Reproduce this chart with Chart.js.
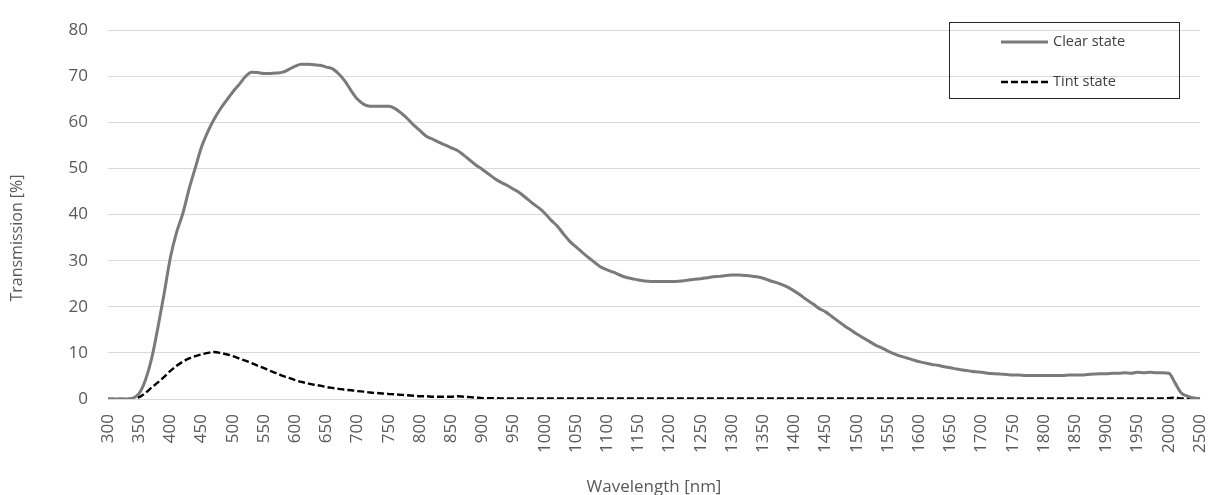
<!DOCTYPE html>
<html>
<head>
<meta charset="utf-8">
<script src="https://cdn.jsdelivr.net/npm/chart.js@4.4.1/dist/chart.umd.min.js"></script>
<style>
html,body{margin:0;padding:0;background:#fff;}
#wrap{width:1211px;height:495px;position:relative;}
</style>
</head>
<body>
<div id="wrap"><canvas id="c" width="1211" height="495"></canvas></div>
<script>
// Categories: wavelength in nm (10 nm steps to 2000, then 100 nm steps to 2500)
const wavelengths = [
  300,310,320,330,340,350,360,370,380,390,
  400,410,420,430,440,450,460,470,480,490,
  500,510,520,530,540,550,560,570,580,590,
  600,610,620,630,640,650,660,670,680,690,
  700,710,720,730,740,750,760,770,780,790,
  800,810,820,830,840,850,860,870,880,890,
  900,910,920,930,940,950,960,970,980,990,
  1000,1010,1020,1030,1040,1050,1060,1070,1080,1090,
  1100,1110,1120,1130,1140,1150,1160,1170,1180,1190,
  1200,1210,1220,1230,1240,1250,1260,1270,1280,1290,
  1300,1310,1320,1330,1340,1350,1360,1370,1380,1390,
  1400,1410,1420,1430,1440,1450,1460,1470,1480,1490,
  1500,1510,1520,1530,1540,1550,1560,1570,1580,1590,
  1600,1610,1620,1630,1640,1650,1660,1670,1680,1690,
  1700,1710,1720,1730,1740,1750,1760,1770,1780,1790,
  1800,1810,1820,1830,1840,1850,1860,1870,1880,1890,
  1900,1910,1920,1930,1940,1950,1960,1970,1980,1990,
  2000,
  2100,2200,2300,2400,2500
];

// Tick labels shown on the category axis
const tickLabels = [300,350,400,450,500,550,600,650,700,750,800,850,900,950,1000,1050,
  1100,1150,1200,1250,1300,1350,1400,1450,1500,1550,1600,1650,1700,1750,1800,1850,
  1900,1950,2000,2500];

// Transmission [%] — clear state
const clearState = [
  0,0,0,0,0.2,1.2,4.1,8.8,15.5,22.9,
  30.7,36.2,40.3,45.6,50.2,54.7,58.0,60.7,62.9,64.8,
  66.6,68.2,69.9,70.9,70.8,70.6,70.6,70.7,70.9,71.5,
  72.2,72.6,72.6,72.5,72.4,72.0,71.6,70.5,68.9,66.8,
  65.0,63.9,63.5,63.5,63.5,63.5,63.0,62.0,60.8,59.4,
  58.2,57.0,56.4,55.7,55.1,54.5,53.9,52.9,51.8,50.7,
  49.8,48.8,47.8,47.0,46.3,45.5,44.7,43.6,42.5,41.5,
  40.3,38.8,37.5,35.8,34.2,33.0,31.8,30.7,29.6,28.6,
  28.0,27.5,26.9,26.4,26.1,25.8,25.6,25.5,25.5,25.5,
  25.5,25.5,25.6,25.8,26.0,26.1,26.3,26.5,26.6,26.8,
  26.9,26.9,26.8,26.7,26.5,26.2,25.7,25.3,24.8,24.2,
  23.4,22.5,21.5,20.6,19.6,18.9,17.9,16.9,15.9,15.0,
  14.1,13.3,12.5,11.7,11.1,10.4,9.8,9.3,8.9,8.5,
  8.1,7.8,7.5,7.3,7.0,6.8,6.5,6.3,6.1,5.9,
  5.8,5.6,5.5,5.4,5.3,5.2,5.2,5.1,5.1,5.1,
  5.1,5.1,5.1,5.1,5.2,5.2,5.2,5.3,5.4,5.5,
  5.5,5.6,5.6,5.7,5.6,5.8,5.7,5.8,5.7,5.7,
  5.6,
  3.5,1.3,0.6,0.2,0.1
];

// Transmission [%] — tint state
const tintState = [
  0,0,0,0,0,0.4,1.3,2.5,3.6,4.8,
  6.1,7.2,8.1,8.8,9.3,9.7,10.0,10.2,10.0,9.7,
  9.3,8.8,8.3,7.8,7.2,6.7,6.1,5.6,5.0,4.6,
  4.1,3.7,3.4,3.1,2.9,2.6,2.4,2.2,2.0,1.9,
  1.7,1.6,1.4,1.3,1.2,1.1,1.0,0.9,0.8,0.7,
  0.6,0.6,0.5,0.5,0.5,0.5,0.6,0.5,0.4,0.3,
  0.2,0.2,0.2,0.1,0.1,0.1,0.1,0.1,0.1,0.1,
  0.1,0.1,0.1,0.1,0.1,0.1,0.1,0.1,0.1,0.1,
  0.1,0.1,0.1,0.1,0.1,0.1,0.1,0.1,0.1,0.1,
  0.1,0.1,0.1,0.1,0.1,0.1,0.1,0.1,0.1,0.1,
  0.1,0.1,0.1,0.1,0.1,0.1,0.1,0.1,0.1,0.1,
  0.1,0.1,0.1,0.1,0.1,0.1,0.1,0.1,0.1,0.1,
  0.1,0.1,0.1,0.1,0.1,0.1,0.1,0.1,0.1,0.1,
  0.1,0.1,0.1,0.1,0.1,0.1,0.1,0.1,0.1,0.1,
  0.1,0.1,0.1,0.1,0.1,0.1,0.1,0.1,0.1,0.1,
  0.1,0.1,0.1,0.1,0.1,0.1,0.1,0.1,0.1,0.1,
  0.1,0.1,0.1,0.1,0.1,0.1,0.1,0.1,0.1,0.1,
  0.2,
  0.3,0.1,0.1,0,0
];

const seriesNames = ['Clear state', 'Tint state'];
const xTitle = 'Wavelength [nm]';
const yTitle = 'Transmission [%]';

const FONT = '"Open Sans", "Noto Sans", sans-serif';
const TEXT = '#595959';

const overlay = {
  id: 'overlay',
  afterDraw(chart) {
    const ctx = chart.ctx;
    ctx.save();
    // legend box
    ctx.strokeStyle = '#262626';
    ctx.lineWidth = 1;
    ctx.strokeRect(949.5, 22.5, 230, 76);
    chart.data.datasets.forEach((ds, i) => {
      const y = 42 + i * 40;
      ctx.beginPath();
      ctx.setLineDash(ds.borderDash || []);
      ctx.strokeStyle = ds.borderColor;
      ctx.lineWidth = ds.borderWidth;
      ctx.moveTo(1001, y);
      ctx.lineTo(1048, y);
      ctx.stroke();
      ctx.setLineDash([]);
      ctx.fillStyle = '#404040';
      ctx.font = '14.5px ' + FONT;
      ctx.textAlign = 'left';
      ctx.textBaseline = 'middle';
      ctx.fillText(ds.label, 1053, y);
    });
    // y-axis title
    ctx.translate(17, 238);
    ctx.rotate(-Math.PI / 2);
    ctx.textAlign = 'center';
    ctx.textBaseline = 'middle';
    ctx.fillStyle = TEXT;
    ctx.font = '16px ' + FONT;
    ctx.fillText(yTitle, 0, 0);
    ctx.restore();
  }
};

new Chart(document.getElementById('c'), {
  type: 'line',
  data: {
    labels: wavelengths,
    datasets: [
      { label: seriesNames[0], data: clearState, borderColor: '#7a7a7a', borderWidth: 3,
        pointRadius: 0, fill: false, cubicInterpolationMode: 'monotone' },
      { label: seriesNames[1], data: tintState, borderColor: '#000000', borderWidth: 2.4,
        borderDash: [7, 3], pointRadius: 0, fill: false, cubicInterpolationMode: 'monotone' }
    ]
  },
  options: {
    responsive: false,
    animation: false,
    devicePixelRatio: 1,
    layout: { padding: { left: 0, right: 11, top: 13, bottom: 0 } },
    plugins: { legend: { display: false }, tooltip: { enabled: false } },
    scales: {
      x: {
        type: 'category',
        offset: false,
        grid: { display: false, drawTicks: false },
        border: { display: false },
        ticks: {
          autoSkip: false, maxRotation: 90, minRotation: 90, padding: 15,
          color: TEXT, font: { family: FONT, size: 17 },
          callback: function (v, i) {
            const w = wavelengths[i];
            return tickLabels.includes(w) ? String(w) : '';
          }
        },
        title: { display: true, text: xTitle, color: TEXT,
                 font: { family: FONT, size: 17, lineHeight: 1 }, padding: { top: 0, bottom: -1 } },
        afterFit(s) { s.height = 96; s.paddingLeft = 0; s.paddingRight = 0; }
      },
      y: {
        min: 0, max: 80,
        ticks: { stepSize: 10, padding: 20, color: TEXT, font: { family: FONT, size: 17 } },
        grid: { color: '#d9d9d9', drawTicks: false },
        border: { display: false },
        afterFit(s) { s.width = 108; }
      }
    }
  },
  plugins: [overlay]
});
</script>
</body>
</html>
